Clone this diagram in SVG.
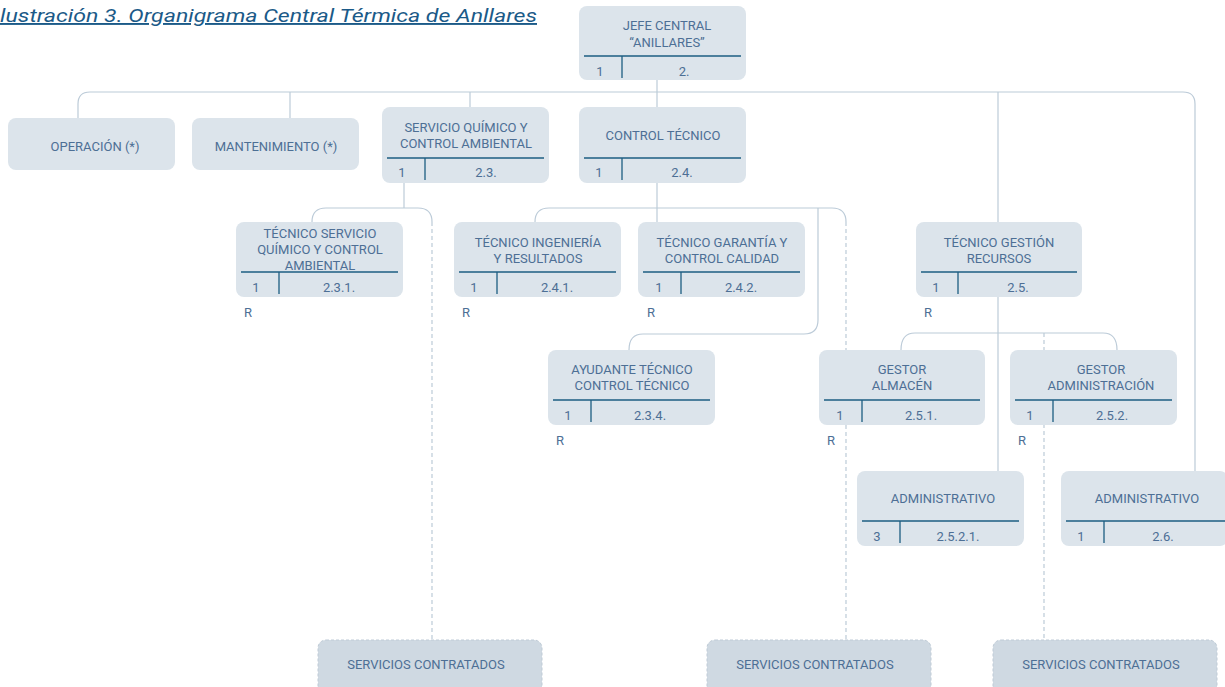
<svg xmlns="http://www.w3.org/2000/svg" width="1225" height="687" viewBox="0 0 1225 687">
<style>
.bx{fill:#dce4eb}
.sc{fill:#cfd9e2;stroke:#bfcbd6;stroke-width:1;stroke-dasharray:3 2}
.t{font-family:"Roboto","Liberation Sans",sans-serif;font-size:13px;fill:#4d6f95;text-anchor:middle}
.dv{stroke:#1d5d82;stroke-width:1.3;fill:none}
.c{stroke:#bccbd8;stroke-width:1.2;fill:none}
.d{stroke-dasharray:4 3}
.ti{font-family:"Roboto","Liberation Sans",Arial,sans-serif;font-style:italic;font-size:19px;fill:#1b5a88;text-decoration:underline}
</style>
<rect width="1225" height="687" fill="#ffffff"/>
<text class="ti" x="0" y="22" textLength="537" lengthAdjust="spacingAndGlyphs">lustración 3. Organigrama Central Térmica de Anllares</text>
<g id="connectors">
<path class="c" d="M78,118 V104 Q78,92 90,92 H1183 Q1195,92 1195,104 V471"/>
<path class="c" d="M290,92 V118"/>
<path class="c" d="M470,92 V107"/>
<path class="c" d="M657,80 V107"/>
<path class="c" d="M998,92 V471"/>
<path class="c" d="M404,183 V208"/>
<path class="c" d="M312,222 Q312,208 326,208 H418 Q432,208 432,222"/>
<path class="c d" d="M432,222 V640"/>
<path class="c" d="M657,183 V222"/>
<path class="c" d="M535,222 Q535,208 549,208 H832 Q846,208 846,222"/>
<path class="c d" d="M846,222 V640"/>
<path class="c" d="M818,208 V320 Q818,334 804,334 H643 Q629,334 629,350"/>
<path class="c" d="M901,350 Q901,333 915,333 H1103 Q1117,333 1117,350"/>
<path class="c d" d="M1044,333 V640"/>
</g>
<g id="n-jefe">
<rect class="bx" x="579" y="6" width="167" height="74" rx="8"/>
<text class="t" x="667" y="30">JEFE CENTRAL</text>
<text class="t" x="667" y="47">“ANILLARES”</text>
<path class="dv" d="M584,56 H741 M622,56 V78"/>
<text class="t" x="600" y="76">1</text>
<text class="t" x="684" y="76">2.</text>
</g>
<g id="n-operacion">
<rect class="bx" x="8" y="118" width="167" height="52" rx="8"/>
<text class="t" x="95" y="151">OPERACIÓN (*)</text>
</g>
<g id="n-mantenimiento">
<rect class="bx" x="192" y="118" width="167" height="52" rx="8"/>
<text class="t" x="276" y="151">MANTENIMIENTO (*)</text>
</g>
<g id="n-servicio">
<rect class="bx" x="382" y="107" width="167" height="76" rx="8"/>
<text class="t" x="466" y="132">SERVICIO QUÍMICO Y</text>
<text class="t" x="466" y="148">CONTROL AMBIENTAL</text>
<path class="dv" d="M387,158 H544 M425,158 V180"/>
<text class="t" x="402" y="177">1</text>
<text class="t" x="486" y="177">2.3.</text>
</g>
<g id="n-control">
<rect class="bx" x="579" y="107" width="167" height="76" rx="8"/>
<text class="t" x="663" y="140">CONTROL TÉCNICO</text>
<path class="dv" d="M584,158 H741 M622,158 V180"/>
<text class="t" x="599" y="177">1</text>
<text class="t" x="682" y="177">2.4.</text>
</g>
<g id="n-tec-servicio">
<rect class="bx" x="236" y="222" width="167" height="75" rx="8"/>
<text class="t" x="320" y="238">TÉCNICO SERVICIO</text>
<text class="t" x="320" y="254">QUÍMICO Y CONTROL</text>
<text class="t" x="320" y="270">AMBIENTAL</text>
<path class="dv" d="M241,272 H398 M279,272 V294"/>
<text class="t" x="256" y="292">1</text>
<text class="t" x="339" y="292">2.3.1.</text>
<text class="t" x="248" y="317">R</text>
</g>
<g id="n-tec-ingenieria">
<rect class="bx" x="454" y="222" width="167" height="75" rx="8"/>
<text class="t" x="538" y="247">TÉCNICO INGENIERÍA</text>
<text class="t" x="538" y="263">Y RESULTADOS</text>
<path class="dv" d="M459,272 H616 M497,272 V294"/>
<text class="t" x="474" y="292">1</text>
<text class="t" x="557" y="292">2.4.1.</text>
<text class="t" x="466" y="317">R</text>
</g>
<g id="n-tec-garantia">
<rect class="bx" x="638" y="222" width="167" height="75" rx="8"/>
<text class="t" x="722" y="247">TÉCNICO GARANTÍA Y</text>
<text class="t" x="722" y="263">CONTROL CALIDAD</text>
<path class="dv" d="M643,272 H800 M681,272 V294"/>
<text class="t" x="659" y="292">1</text>
<text class="t" x="741" y="292">2.4.2.</text>
<text class="t" x="651" y="317">R</text>
</g>
<g id="n-tec-gestion">
<rect class="bx" x="916" y="222" width="166" height="75" rx="8"/>
<text class="t" x="999" y="247">TÉCNICO GESTIÓN</text>
<text class="t" x="999" y="263">RECURSOS</text>
<path class="dv" d="M921,272 H1077 M958,272 V294"/>
<text class="t" x="936" y="292">1</text>
<text class="t" x="1018" y="292">2.5.</text>
<text class="t" x="928" y="317">R</text>
</g>
<g id="n-ayudante">
<rect class="bx" x="548" y="350" width="167" height="75" rx="8"/>
<text class="t" x="632" y="374">AYUDANTE TÉCNICO</text>
<text class="t" x="632" y="390">CONTROL TÉCNICO</text>
<path class="dv" d="M553,400 H710 M591,400 V422"/>
<text class="t" x="568" y="420">1</text>
<text class="t" x="650" y="420">2.3.4.</text>
<text class="t" x="560" y="445">R</text>
</g>
<g id="n-almacen">
<rect class="bx" x="819" y="350" width="166" height="75" rx="8"/>
<text class="t" x="902" y="374">GESTOR</text>
<text class="t" x="902" y="390">ALMACÉN</text>
<path class="dv" d="M824,400 H980 M862,400 V422"/>
<text class="t" x="840" y="420">1</text>
<text class="t" x="921" y="420">2.5.1.</text>
<text class="t" x="831" y="445">R</text>
</g>
<g id="n-administracion">
<rect class="bx" x="1010" y="350" width="167" height="75" rx="8"/>
<text class="t" x="1101" y="374">GESTOR</text>
<text class="t" x="1101" y="390">ADMINISTRACIÓN</text>
<path class="dv" d="M1015,400 H1172 M1053,400 V422"/>
<text class="t" x="1030" y="420">1</text>
<text class="t" x="1112" y="420">2.5.2.</text>
<text class="t" x="1022" y="445">R</text>
</g>
<g id="n-administrativo-1">
<rect class="bx" x="857" y="471" width="167" height="75" rx="8"/>
<text class="t" x="943" y="503">ADMINISTRATIVO</text>
<path class="dv" d="M862,521 H1019 M900,521 V543"/>
<text class="t" x="877" y="541">3</text>
<text class="t" x="958" y="541">2.5.2.1.</text>
</g>
<g id="n-administrativo-2">
<rect class="bx" x="1061" y="471" width="167" height="75" rx="8"/>
<text class="t" x="1147" y="503">ADMINISTRATIVO</text>
<path class="dv" d="M1066,521 H1225 M1104,521 V543"/>
<text class="t" x="1081" y="541">1</text>
<text class="t" x="1163" y="541">2.6.</text>
</g>
<g id="n-sc-1">
<rect class="sc" x="318" y="640" width="224" height="56" rx="8"/>
<text class="t" x="426" y="669">SERVICIOS CONTRATADOS</text>
</g>
<g id="n-sc-2">
<rect class="sc" x="707" y="640" width="224" height="56" rx="8"/>
<text class="t" x="815" y="669">SERVICIOS CONTRATADOS</text>
</g>
<g id="n-sc-3">
<rect class="sc" x="993" y="640" width="224" height="56" rx="8"/>
<text class="t" x="1101" y="669">SERVICIOS CONTRATADOS</text>
</g>
</svg>
